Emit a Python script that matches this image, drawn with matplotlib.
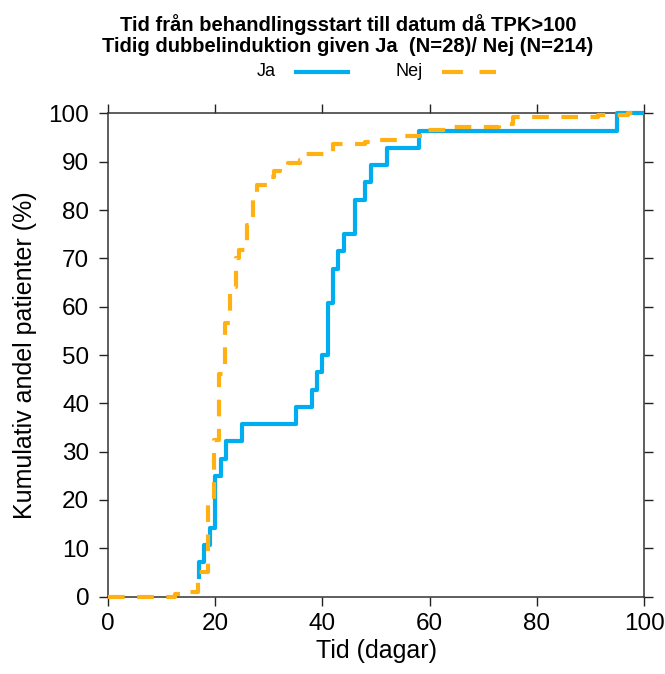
import matplotlib
matplotlib.use("Agg")
import matplotlib.pyplot as plt
from matplotlib.lines import Line2D
import numpy as np

plt.rcParams['font.family'] = ['Liberation Sans', 'DejaVu Sans']

# ---- data ----
title1 = "Tid från behandlingsstart till datum då TPK>100"
title2 = "Tidig dubbelinduktion given Ja  (N=28)/ Nej (N=214)"
groups = ["Ja", "Nej"]
n_ja = 28
ja_days = [17, 17, 18, 19, 20, 21, 22, 25, 35, 38, 39, 40, 41, 42, 43, 44, 46, 48, 49, 52, 58, 95, 100]
ja_cum = [1, 2, 3, 4, 7, 8, 9, 10, 11, 12, 13, 14, 17, 19, 20, 21, 23, 24, 25, 26, 27, 28, 28]

nej_days = [0, 12.5, 15, 16.8, 18.7, 19.8, 20.8, 21.8, 22.7, 23.8, 24.5, 25.9, 27.0, 27.8,
            29.6, 31, 32, 33.5, 35.8, 37, 42, 48, 50.5, 54, 59, 64, 73, 75.5, 91.5, 97, 100]
nej_pct = [0, 0.5, 0.9, 5.1, 19.8, 32.5, 46, 56.6, 64, 70, 71.7, 76.9, 82, 85.2,
           86.8, 88, 88.7, 89.7, 90.3, 91.7, 93.7, 94.1, 94.5, 95.3, 96.5, 97.3, 97.8, 99.2, 99.6, 100, 100]

xticks = [0, 20, 40, 60, 80, 100]
yticks = list(range(0, 101, 10))
xlabel = "Tid (dagar)"
ylabel = "Kumulativ andel patienter (%)"

c_ja = '#00AEEF'
c_nej = '#FFB012'

ja_pct = np.array(ja_cum) / n_ja * 100

fig = plt.figure(figsize=(6.65, 6.74), dpi=100)
ax = fig.add_axes([108/665, 1-596.5/674, (644-108)/665, (596.5-113.5)/674])

ax.step(ja_days, ja_pct, where='post', color=c_ja, lw=3, clip_on=False,
        solid_capstyle='butt', zorder=3)
ax.step(nej_days, nej_pct, where='post', color=c_nej, lw=3, clip_on=False,
        dashes=(4, 3), dash_capstyle='butt', zorder=4)

ax.set_xlim(0, 100)
ax.set_ylim(0, 100)
ax.set_xticks(xticks)
ax.set_yticks(yticks)
ax.tick_params(direction='out', length=6.5, width=1, top=True, right=True,
               labelsize=17.5, colors='#222222', labelcolor='black')
ax.tick_params(axis='x', pad=5.5)
ax.tick_params(axis='y', pad=7)
for s in ax.spines.values():
    s.set_linewidth(1.1)
    s.set_color('#333333')
ax.set_xlabel(xlabel, fontsize=18, labelpad=3)
ax.set_ylabel(ylabel, fontsize=18, labelpad=8)

fig.text(348/665, 1-24.5/674, title1, ha='center', va='center', fontsize=14.5, fontweight='bold')
fig.text(348/665, 1-47/674, title2, ha='center', va='center', fontsize=14.5, fontweight='bold')

# legend (key above panel)
ly = 1 - 72/674
fig.text(266/665, ly, groups[0], ha='center', va='center', fontsize=13)
fig.add_artist(Line2D([296/665, 348/665], [ly, ly], color=c_ja, lw=3, transform=fig.transFigure))
fig.text(409/665, ly, groups[1], ha='center', va='center', fontsize=13)
fig.add_artist(Line2D([442/665, 496/665], [ly, ly], color=c_nej, lw=3, dashes=(5, 4),
                      dash_capstyle='butt', transform=fig.transFigure))

fig.savefig("out.png", dpi=100)
